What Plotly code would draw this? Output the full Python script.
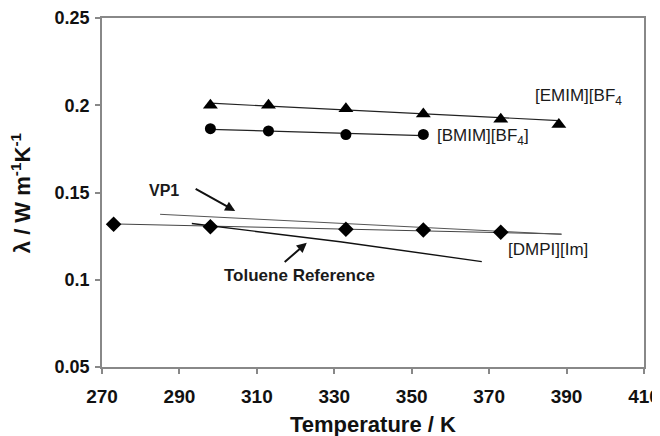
import plotly.graph_objects as go

# ---- data ----
emim_T = [298, 313, 333, 353, 373, 388]
emim_k = [0.200, 0.200, 0.198, 0.195, 0.192, 0.189]
emim_fit_T = [298, 388]
emim_fit_k = [0.2012, 0.1912]

bmim_T = [298, 313, 333, 353]
bmim_k = [0.1866, 0.1853, 0.1832, 0.1833]
bmim_fit_T = [298, 353]
bmim_fit_k = [0.1862, 0.1826]

dmpi_T = [273, 298, 333, 353, 373]
dmpi_k = [0.1318, 0.1304, 0.1289, 0.1285, 0.1272]
dmpi_fit_T = [273, 388.7]
dmpi_fit_k = [0.1320, 0.1262]

vp1_T = [285, 388.7]
vp1_k = [0.1375, 0.1260]

tol_T = [293.2, 298.7, 331.5, 368.1]
tol_k = [0.1322, 0.1307, 0.1218, 0.1104]

x_ticks = [270, 290, 310, 330, 350, 370, 390, 410]
y_ticks = [0.05, 0.1, 0.15, 0.2, 0.25]

FONT = "Liberation Sans, Arial, sans-serif"

fig = go.Figure()

def line(x, y, color="#222", width=1.1):
    fig.add_trace(go.Scatter(x=x, y=y, mode="lines",
                             line=dict(color=color, width=width),
                             hoverinfo="skip", showlegend=False))

line(emim_fit_T, emim_fit_k)
line(bmim_fit_T, bmim_fit_k)
line(dmpi_fit_T, dmpi_fit_k, color="#444", width=1.0)
line(vp1_T, vp1_k, color="#555", width=1.0)
line(tol_T, tol_k, color="#111", width=1.4)

fig.add_trace(go.Scatter(x=emim_T, y=emim_k, mode="markers",
                         marker=dict(symbol="triangle-up", size=13, color="black"),
                         showlegend=False))
fig.add_trace(go.Scatter(x=bmim_T, y=bmim_k, mode="markers",
                         marker=dict(symbol="circle", size=11, color="black"),
                         showlegend=False))
fig.add_trace(go.Scatter(x=dmpi_T, y=dmpi_k, mode="markers",
                         marker=dict(symbol="diamond", size=12, color="black"),
                         showlegend=False))

ann = []
def label(text, x, y, size=17):
    ann.append(dict(x=x, y=y, xref="x", yref="y", text=text, showarrow=False,
                    font=dict(family=FONT, size=size, color="#1a1a1a"),
                    xanchor="center", yanchor="middle"))

label("[EMIM][BF<sub>4</sub>", 393.2, 0.2049)
label("[BMIM][BF<sub>4</sub>]", 368.4, 0.1820)
label("[DMPI][Im]", 385.2, 0.1175)
label("<b>VP1</b>", 286.1, 0.1514, size=16)
label("<b>Toluene Reference</b>", 320.9, 0.1027, size=17)

# arrows
ann.append(dict(x=304.4, y=0.1394, ax=293.8, ay=0.1526, xref="x", yref="y",
                axref="x", ayref="y", text="", showarrow=True, arrowhead=2,
                arrowsize=1, arrowwidth=2, arrowcolor="#111"))
ann.append(dict(x=322.9, y=0.1212, ax=316.8, ay=0.1094, xref="x", yref="y",
                axref="x", ayref="y", text="", showarrow=True, arrowhead=2,
                arrowsize=1, arrowwidth=2, arrowcolor="#111"))

# axis titles as paper annotations (fixed positions)
ann.append(dict(x=0.5, y=-0.165, xref="paper", yref="paper", showarrow=False,
                text="<b>Temperature / K</b>", xanchor="center", yanchor="middle",
                font=dict(family=FONT, size=22, color="#111")))
ann.append(dict(x=-0.15, y=0.5, xref="paper", yref="paper", showarrow=False,
                text="<b>λ / W m<sup>-1</sup>K<sup>-1</sup></b>", textangle=-90,
                xanchor="center", yanchor="middle",
                font=dict(family=FONT, size=22, color="#111")))

# page body has an 8px margin (top/left), so the figure is sized to compensate
fig.update_layout(
    width=652, height=428,
    margin=dict(l=94, r=16, t=10, b=69, autoexpand=False),
    paper_bgcolor="white", plot_bgcolor="white",
    annotations=ann,
    font=dict(family=FONT, color="#111"),
    xaxis=dict(range=[270, 410], tickvals=x_ticks, ticktext=[str(v) for v in x_ticks],
               showgrid=False, zeroline=False, showline=True, mirror=True,
               linecolor="#888", linewidth=1.5, ticks="outside", ticklen=5,
               tickcolor="#888", tickwidth=1.5, automargin=False,
               ticklabelstandoff=6,
               tickfont=dict(family=FONT, size=19, color="#111", weight="bold")),
    yaxis=dict(range=[0.05, 0.25], tickvals=y_ticks, ticktext=[f"{v:g}" for v in y_ticks],
               showgrid=False, zeroline=False, showline=True, mirror=True,
               linecolor="#888", linewidth=1.5, ticks="outside", ticklen=5,
               tickcolor="#888", tickwidth=1.5, automargin=False,
               ticklabelstandoff=2,
               tickfont=dict(family=FONT, size=18, color="#111", weight="bold")),
)

fig.write_html("out.html")
